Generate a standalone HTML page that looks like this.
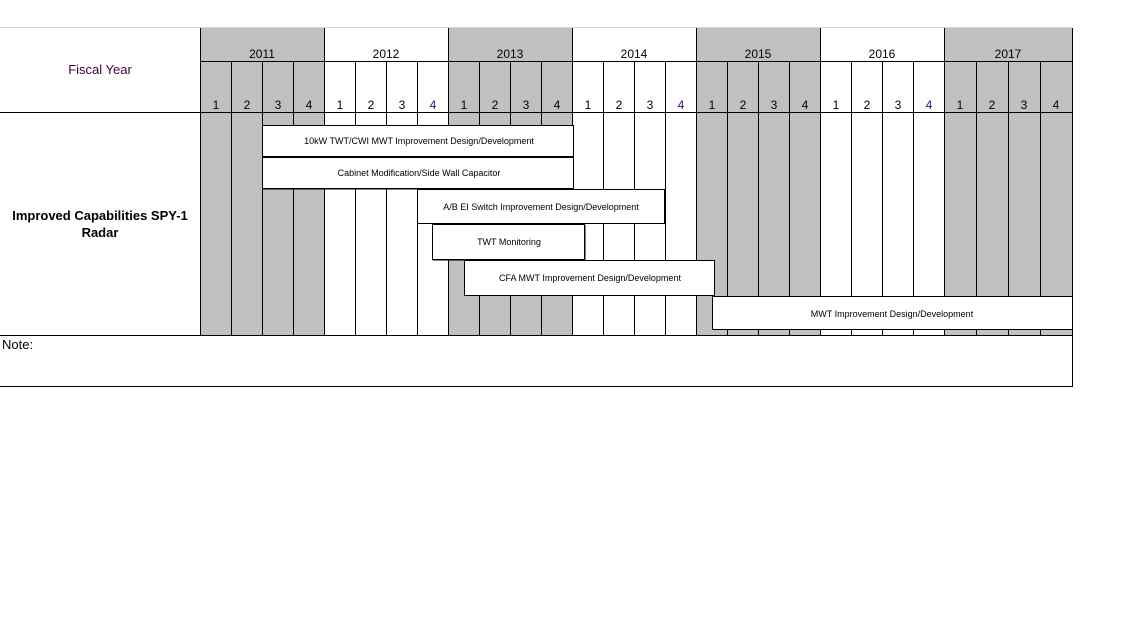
<!DOCTYPE html>
<html><head><meta charset="utf-8"><style>
html,body{margin:0;padding:0;background:#fff;}
svg{display:block;font-family:"Liberation Sans",Arial,sans-serif;}
</style></head><body>
<svg width="1131" height="623" viewBox="0 0 1131 623" xmlns="http://www.w3.org/2000/svg">
<rect x="0" y="0" width="1131" height="623" fill="#fff"/>
<line x1="0" y1="27.5" x2="1072" y2="27.5" stroke="#d4d8dc" stroke-width="1"/>
<g fill="#c0c0c0">
<rect x="200" y="28" width="124" height="307"/>
<rect x="448" y="28" width="124" height="307"/>
<rect x="696" y="28" width="124" height="307"/>
<rect x="944" y="28" width="128" height="307"/>
</g>
<g stroke="#000" stroke-width="1">
<line x1="200.5" y1="28" x2="200.5" y2="335"/>
<line x1="324.5" y1="28" x2="324.5" y2="335"/>
<line x1="448.5" y1="28" x2="448.5" y2="335"/>
<line x1="572.5" y1="28" x2="572.5" y2="335"/>
<line x1="696.5" y1="28" x2="696.5" y2="335"/>
<line x1="820.5" y1="28" x2="820.5" y2="335"/>
<line x1="944.5" y1="28" x2="944.5" y2="335"/>
<line x1="1072.5" y1="28" x2="1072.5" y2="387"/>
<line x1="231.5" y1="62" x2="231.5" y2="335"/><line x1="262.5" y1="62" x2="262.5" y2="335"/><line x1="293.5" y1="62" x2="293.5" y2="335"/>
<line x1="355.5" y1="62" x2="355.5" y2="335"/><line x1="386.5" y1="62" x2="386.5" y2="335"/><line x1="417.5" y1="62" x2="417.5" y2="335"/>
<line x1="479.5" y1="62" x2="479.5" y2="335"/><line x1="510.5" y1="62" x2="510.5" y2="335"/><line x1="541.5" y1="62" x2="541.5" y2="335"/>
<line x1="603.5" y1="62" x2="603.5" y2="335"/><line x1="634.5" y1="62" x2="634.5" y2="335"/><line x1="665.5" y1="62" x2="665.5" y2="335"/>
<line x1="727.5" y1="62" x2="727.5" y2="335"/><line x1="758.5" y1="62" x2="758.5" y2="335"/><line x1="789.5" y1="62" x2="789.5" y2="335"/>
<line x1="851.5" y1="62" x2="851.5" y2="335"/><line x1="882.5" y1="62" x2="882.5" y2="335"/><line x1="913.5" y1="62" x2="913.5" y2="335"/>
<line x1="976.5" y1="62" x2="976.5" y2="335"/><line x1="1008.5" y1="62" x2="1008.5" y2="335"/><line x1="1040.5" y1="62" x2="1040.5" y2="335"/>
<line x1="200" y1="61.5" x2="1073" y2="61.5"/>
<line x1="0" y1="112.5" x2="1073" y2="112.5"/>
<line x1="0" y1="335.5" x2="1073" y2="335.5"/>
<line x1="0" y1="386.5" x2="1073" y2="386.5"/>
</g>
<g font-size="12" fill="#000" text-anchor="middle">
<text x="262" y="58">2011</text><text x="386" y="58">2012</text><text x="510" y="58">2013</text>
<text x="634" y="58">2014</text><text x="758" y="58">2015</text><text x="882" y="58">2016</text><text x="1008" y="58">2017</text>
</g>
<g font-size="12" fill="#000" text-anchor="middle">
<text x="216" y="109">1</text><text x="247" y="109">2</text><text x="278" y="109">3</text><text x="309" y="109">4</text>
<text x="340" y="109">1</text><text x="371" y="109">2</text><text x="402" y="109">3</text><text x="433" y="109" fill="#400080">4</text>
<text x="464" y="109">1</text><text x="495" y="109">2</text><text x="526" y="109">3</text><text x="557" y="109">4</text>
<text x="588" y="109">1</text><text x="619" y="109">2</text><text x="650" y="109">3</text><text x="681" y="109" fill="#400080">4</text>
<text x="712" y="109">1</text><text x="743" y="109">2</text><text x="774" y="109">3</text><text x="805" y="109">4</text>
<text x="836" y="109">1</text><text x="867" y="109">2</text><text x="898" y="109">3</text><text x="929" y="109" fill="#400080">4</text>
<text x="960" y="109">1</text><text x="992" y="109">2</text><text x="1024" y="109">3</text><text x="1056" y="109">4</text>
</g>
<text x="100" y="74" font-size="13" fill="#400040" text-anchor="middle">Fiscal Year</text>
<text x="100" y="220" font-size="13" font-weight="bold" fill="#000" text-anchor="middle">Improved Capabilities SPY-1</text>
<text x="100" y="237" font-size="13" font-weight="bold" fill="#000" text-anchor="middle">Radar</text>
<text x="2" y="349" font-size="13" fill="#000">Note:</text>
<g fill="#fff" stroke="#000" stroke-width="1">
<rect x="262.5" y="125.5" width="311" height="31"/>
<rect x="262.5" y="157.5" width="311" height="31"/>
<rect x="417.5" y="189.5" width="247" height="34"/>
<rect x="432.5" y="224.5" width="152" height="35"/>
<rect x="464.5" y="260.5" width="250" height="35"/>
<rect x="712.5" y="296.5" width="360" height="33"/>
</g>
<g stroke="#000" stroke-width="1">
<line x1="263" y1="157" x2="574" y2="157"/>
<line x1="263" y1="189" x2="574" y2="189"/>
<line x1="665" y1="190" x2="665" y2="224"/>
<line x1="585" y1="225" x2="585" y2="260"/>
<line x1="433" y1="260" x2="585" y2="260"/>
</g>
<g font-size="9" fill="#000" text-anchor="middle">
<text x="419" y="144">10kW TWT/CWI MWT Improvement Design/Development</text>
<text x="419" y="176">Cabinet Modification/Side Wall Capacitor</text>
<text x="541" y="210">A/B EI Switch Improvement Design/Development</text>
<text x="509" y="245">TWT  Monitoring</text>
<text x="590" y="281">CFA MWT Improvement Design/Development</text>
<text x="892" y="317">MWT Improvement Design/Development</text>
</g>
</svg>
</body></html>
